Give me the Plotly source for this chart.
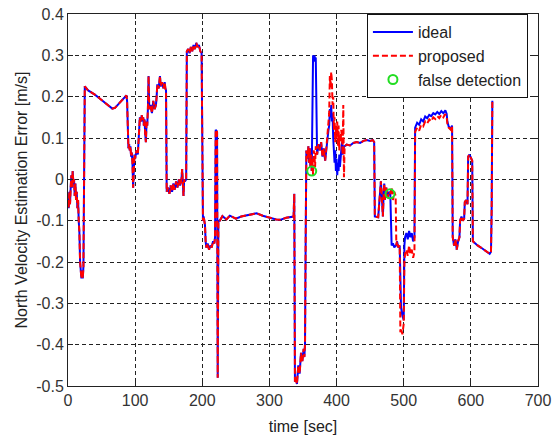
import plotly.graph_objects as go

# ---- time axis [sec], segmented to keep the three series aligned ----
time = (
    [0, 1, 2, 3, 4, 5, 6, 7, 8, 9, 10, 11, 12, 13, 14, 15, 16, 17, 18, 19, 20, 21, 22, 23, 23.5, 24, 24.5, 25]
    + [30, 40, 50, 60, 66, 70, 78, 87, 88]
    + [89, 90, 91, 92, 93, 94, 95, 96, 97, 98, 99, 100, 102, 104, 105, 106, 107, 108,
       110, 111, 112, 113, 114, 115, 116, 117, 118, 119, 120, 121, 123, 125, 127, 129, 131,
       132, 133, 135, 137, 138, 140, 142, 144, 145, 146]
    + [147, 149, 151, 153, 155, 157, 159, 161, 163, 165, 167, 169, 170, 171, 172, 173, 174, 176]
    + [177, 179, 181, 183, 185, 187, 189, 191, 193, 195, 197, 199]
    + [200, 201, 202, 204, 205, 206, 208, 210, 212, 214, 216, 218, 219, 220, 222, 223, 224]
    + [226, 230, 236, 241, 250, 258, 270, 281, 290, 301, 310, 316, 325, 336, 337]
    + [338, 339, 341, 343, 345, 347, 349, 351, 352, 353, 354]
    + [355, 357, 358, 359, 360, 361, 362, 363, 364, 365, 366, 367, 368, 369, 371, 373, 375, 377,
       379, 381, 383, 385, 386, 388, 389, 390, 391, 392, 393, 394, 395, 396, 397, 398, 399, 400,
       401, 402, 403, 404, 405, 406, 407, 408, 409, 410, 411, 412]
    + [415, 420, 425, 430, 435, 440, 445, 450, 454, 456, 457, 462, 464, 465, 466, 467, 468, 469]
    + [470, 471, 472, 474, 476, 478, 480, 481, 482, 484, 486, 488]
    + [489, 490, 492, 494, 495, 496, 498, 500, 501, 502, 504, 506, 508, 510, 512, 514, 516]
    + [517, 520, 523, 526, 529, 532, 535, 538, 541, 544, 547, 550, 553, 556, 559, 562, 564, 565,
       567, 570, 572]
    + [573, 575, 577, 579, 581, 583, 584, 586, 588, 590, 591, 593, 595, 596, 598, 600, 602, 603,
       606, 610, 615, 620, 625, 628, 630, 631, 632]
)

# ---- proposed estimator, north velocity error [m/s] ----
proposed = (
    [-0.05, -0.07, -0.03, -0.06, -0.02, 0.01, -0.02, 0.02, -0.01, 0.0, -0.04, -0.01, -0.05, -0.03,
     -0.07, -0.05, -0.10, -0.13, -0.20, -0.23, -0.24, -0.22, -0.24, -0.21, -0.10, 0.16, 0.13, 0.225]
    + [0.215, 0.205, 0.192, 0.178, 0.171, 0.173, 0.186, 0.203, 0.19]
    + [0.09, 0.075, 0.085, 0.07, 0.08, 0.055, 0.065, 0.04, -0.02, 0.045, 0.06, 0.05, 0.07, 0.06,
       0.09, 0.12, 0.15, 0.14, 0.155, 0.14, 0.15, 0.13, 0.145, 0.11, 0.09, 0.14, 0.13, 0.17, 0.25,
       0.17, 0.18, 0.16, 0.19, 0.17, 0.18, 0.2, 0.23, 0.22, 0.25, 0.225, 0.235, 0.22, 0.235, 0.22,
       0.215]
    + [-0.03, -0.02, -0.035, -0.015, -0.03, -0.01, -0.025, -0.005, -0.02, 0.0, -0.015, 0.0, 0.025,
       -0.01, -0.04, 0.0, -0.005, 0.0]
    + [0.31, 0.315, 0.305, 0.32, 0.31, 0.325, 0.315, 0.33, 0.32, 0.325, 0.31, 0.305]
    + [-0.08, -0.1, -0.09, -0.11, -0.15, -0.165, -0.155, -0.17, -0.16, -0.165, -0.15, -0.155,
       -0.14, 0.12, 0.115, -0.48, -0.1]
    + [-0.1, -0.089, -0.097, -0.088, -0.095, -0.09, -0.085, -0.082, -0.088, -0.094, -0.097,
       -0.098, -0.093, -0.09, -0.035]
    + [-0.49, -0.48, -0.495, -0.45, -0.47, -0.42, -0.44, -0.41, -0.43, -0.40, -0.14]
    + [0.07, 0.05, 0.08, 0.04, 0.075, 0.03, 0.06, 0.02, 0.05, 0.01, 0.07, 0.06, 0.03, 0.08, 0.06,
       0.085, 0.07, 0.09, 0.055, 0.075, 0.045, 0.08, 0.1, 0.14, 0.16, 0.25, 0.22, 0.26, 0.24, 0.18,
       0.2, 0.12, 0.15, 0.09, 0.13, 0.1, 0.14, 0.08, 0.13, 0.07, 0.11, 0.09, 0.12, 0.1, 0.06, 0.18,
       0.005, 0.08]
    + [0.084, 0.082, 0.088, 0.09, 0.088, 0.093, 0.095, 0.093, 0.095, 0.09, -0.09, -0.092, -0.05,
       -0.01, -0.005, -0.03, -0.06, -0.09]
    + [-0.04, -0.01, -0.05, -0.02, -0.045, -0.03, -0.035, -0.025, -0.02, -0.05, -0.03, -0.04]
    + [-0.16, -0.15, -0.165, -0.16, -0.37, -0.36, -0.375, -0.35, -0.2, -0.18, -0.17, -0.185,
       -0.16, -0.18, -0.17, -0.19, -0.175]
    + [0.115, 0.125, 0.118, 0.132, 0.128, 0.14, 0.135, 0.145, 0.14, 0.15, 0.146, 0.153, 0.148,
       0.156, 0.15, 0.158, 0.15, 0.135, 0.125, 0.12, 0.13]
    + [-0.14, -0.16, -0.145, -0.17, -0.15, -0.14, -0.1, -0.09, -0.1, -0.095, -0.055, -0.05, -0.06,
       0.055, 0.06, 0.05, 0.045, -0.15, -0.155, -0.16, -0.165, -0.17, -0.175, -0.18, -0.175, -0.07,
       0.19]
)

# ---- ideal estimator, north velocity error [m/s] ----
ideal = (
    [-0.05, -0.07, -0.03, -0.06, -0.02, 0.01, -0.02, 0.02, -0.01, 0.0, -0.04, -0.01, -0.05, -0.03,
     -0.07, -0.05, -0.10, -0.13, -0.20, -0.23, -0.24, -0.22, -0.24, -0.21, -0.10, 0.16, 0.13, 0.225]
    + [0.215, 0.205, 0.192, 0.178, 0.171, 0.173, 0.186, 0.203, 0.19]
    + [0.09, 0.075, 0.085, 0.07, 0.08, 0.055, 0.065, 0.04, -0.02, 0.045, 0.06, 0.05, 0.07, 0.06,
       0.09, 0.12, 0.15, 0.14, 0.155, 0.14, 0.15, 0.13, 0.145, 0.11, 0.09, 0.14, 0.13, 0.17, 0.25,
       0.17, 0.18, 0.16, 0.19, 0.17, 0.18, 0.2, 0.23, 0.22, 0.25, 0.225, 0.235, 0.22, 0.235, 0.22,
       0.215]
    + [-0.03, -0.02, -0.035, -0.015, -0.03, -0.01, -0.025, -0.005, -0.02, 0.0, -0.015, 0.0, 0.025,
       -0.01, -0.04, 0.0, -0.005, 0.0]
    + [0.31, 0.315, 0.305, 0.32, 0.31, 0.325, 0.315, 0.33, 0.32, 0.325, 0.31, 0.305]
    + [-0.08, -0.1, -0.09, -0.11, -0.15, -0.165, -0.155, -0.17, -0.16, -0.165, -0.15, -0.155,
       -0.14, 0.12, 0.115, -0.48, -0.1]
    + [-0.1, -0.089, -0.097, -0.088, -0.095, -0.09, -0.085, -0.082, -0.088, -0.094, -0.097,
       -0.098, -0.093, -0.09, -0.035]
    + [-0.49, -0.48, -0.495, -0.45, -0.47, -0.42, -0.44, -0.41, -0.43, -0.40, -0.14]
    + [0.07, 0.05, 0.08, 0.04, 0.075, 0.03, 0.06, 0.02, 0.29, 0.3, 0.285, 0.3, 0.29, 0.295, 0.06,
       0.085, 0.07, 0.09, 0.055, 0.075, 0.045, 0.08, 0.1, 0.12, 0.13, 0.17, 0.15, 0.18, 0.14, 0.16,
       0.1, 0.06, 0.04, 0.07, 0.02, 0.05, 0.01, 0.04, 0.02, 0.06, 0.03, 0.05, 0.07, 0.09, 0.06, 0.08,
       0.08, 0.08]
    + [0.084, 0.082, 0.088, 0.09, 0.088, 0.093, 0.095, 0.093, 0.095, 0.09, -0.09, -0.092, -0.05,
       -0.01, -0.005, -0.03, -0.06, -0.09]
    + [-0.04, -0.01, -0.05, -0.02, -0.045, -0.03, -0.035, -0.15, -0.16, -0.155, -0.165, -0.16]
    + [-0.16, -0.15, -0.165, -0.16, -0.30, -0.31, -0.33, -0.34, -0.16, -0.14, -0.13, -0.145,
       -0.125, -0.14, -0.13, -0.15, -0.14]
    + [0.125, 0.137, 0.132, 0.145, 0.14, 0.152, 0.148, 0.156, 0.153, 0.16, 0.157, 0.163, 0.158,
       0.165, 0.16, 0.167, 0.158, 0.14, 0.128, 0.122, 0.13]
    + [-0.14, -0.16, -0.145, -0.17, -0.15, -0.14, -0.1, -0.09, -0.1, -0.095, -0.055, -0.05, -0.06,
       0.055, 0.06, 0.05, 0.045, -0.15, -0.155, -0.16, -0.165, -0.17, -0.175, -0.18, -0.175, -0.07,
       0.19]
)

# ---- false detection instants ----
false_t = [363, 479.6]
false_v = [0.02, -0.035]

assert len(time) == len(proposed) == len(ideal), (len(time), len(proposed), len(ideal))

x_ticks = [0, 100, 200, 300, 400, 500, 600, 700]
y_ticks = [0.4, 0.3, 0.2, 0.1, 0, -0.1, -0.2, -0.3, -0.4, -0.5]
y_tick_text = ["0.4", "0.3", "0.2", "0.1", "0", "-0.1", "-0.2", "-0.3", "-0.4", "-0.5"]

FONT = "Liberation Sans, Arial, sans-serif"

fig = go.Figure()
fig.add_trace(go.Scatter(
    x=time, y=ideal, mode="lines", name="ideal",
    line=dict(color="#0000ff", width=2),
))
fig.add_trace(go.Scatter(
    x=time, y=proposed, mode="lines", name="proposed",
    line=dict(color="#ff0000", width=2, dash="6px,3px"),
))
fig.add_trace(go.Scatter(
    x=false_t, y=false_v, mode="markers", name="false detection",
    marker=dict(symbol="circle-open", color="#22dd22", size=9, line=dict(width=2)),
))

axis_common = dict(
    showline=True, linecolor="#222", linewidth=1, mirror="ticks",
    ticks="inside", ticklen=5, tickcolor="#222",
    showgrid=True, gridcolor="#222", gridwidth=1, griddash="4px,3px",
    zeroline=False, automargin=False,
    tickfont=dict(family=FONT, size=16, color="#333"),
)

fig.update_xaxes(
    range=[0, 700], tickvals=x_ticks,
    title=dict(text="time [sec]", font=dict(family=FONT, size=16, color="#222"), standoff=13),
    **axis_common,
)
fig.update_yaxes(
    range=[-0.5, 0.4], tickvals=y_ticks, ticktext=y_tick_text,
    title=dict(text="North Velocity Estimation Error [m/s]",
               font=dict(family=FONT, size=16, color="#222"), standoff=4),
    **axis_common,
)

fig.update_layout(
    width=555, height=435,
    margin=dict(l=68, r=17, t=14, b=49),
    paper_bgcolor="white", plot_bgcolor="white",
    showlegend=True,
    legend=dict(
        x=0.636, y=1.0, xanchor="left", yanchor="top",
        bgcolor="white", bordercolor="#111", borderwidth=1,
        font=dict(family=FONT, size=16, color="#222"),
        itemwidth=40, tracegroupgap=0,
    ),
)

fig.write_html("out.html")
